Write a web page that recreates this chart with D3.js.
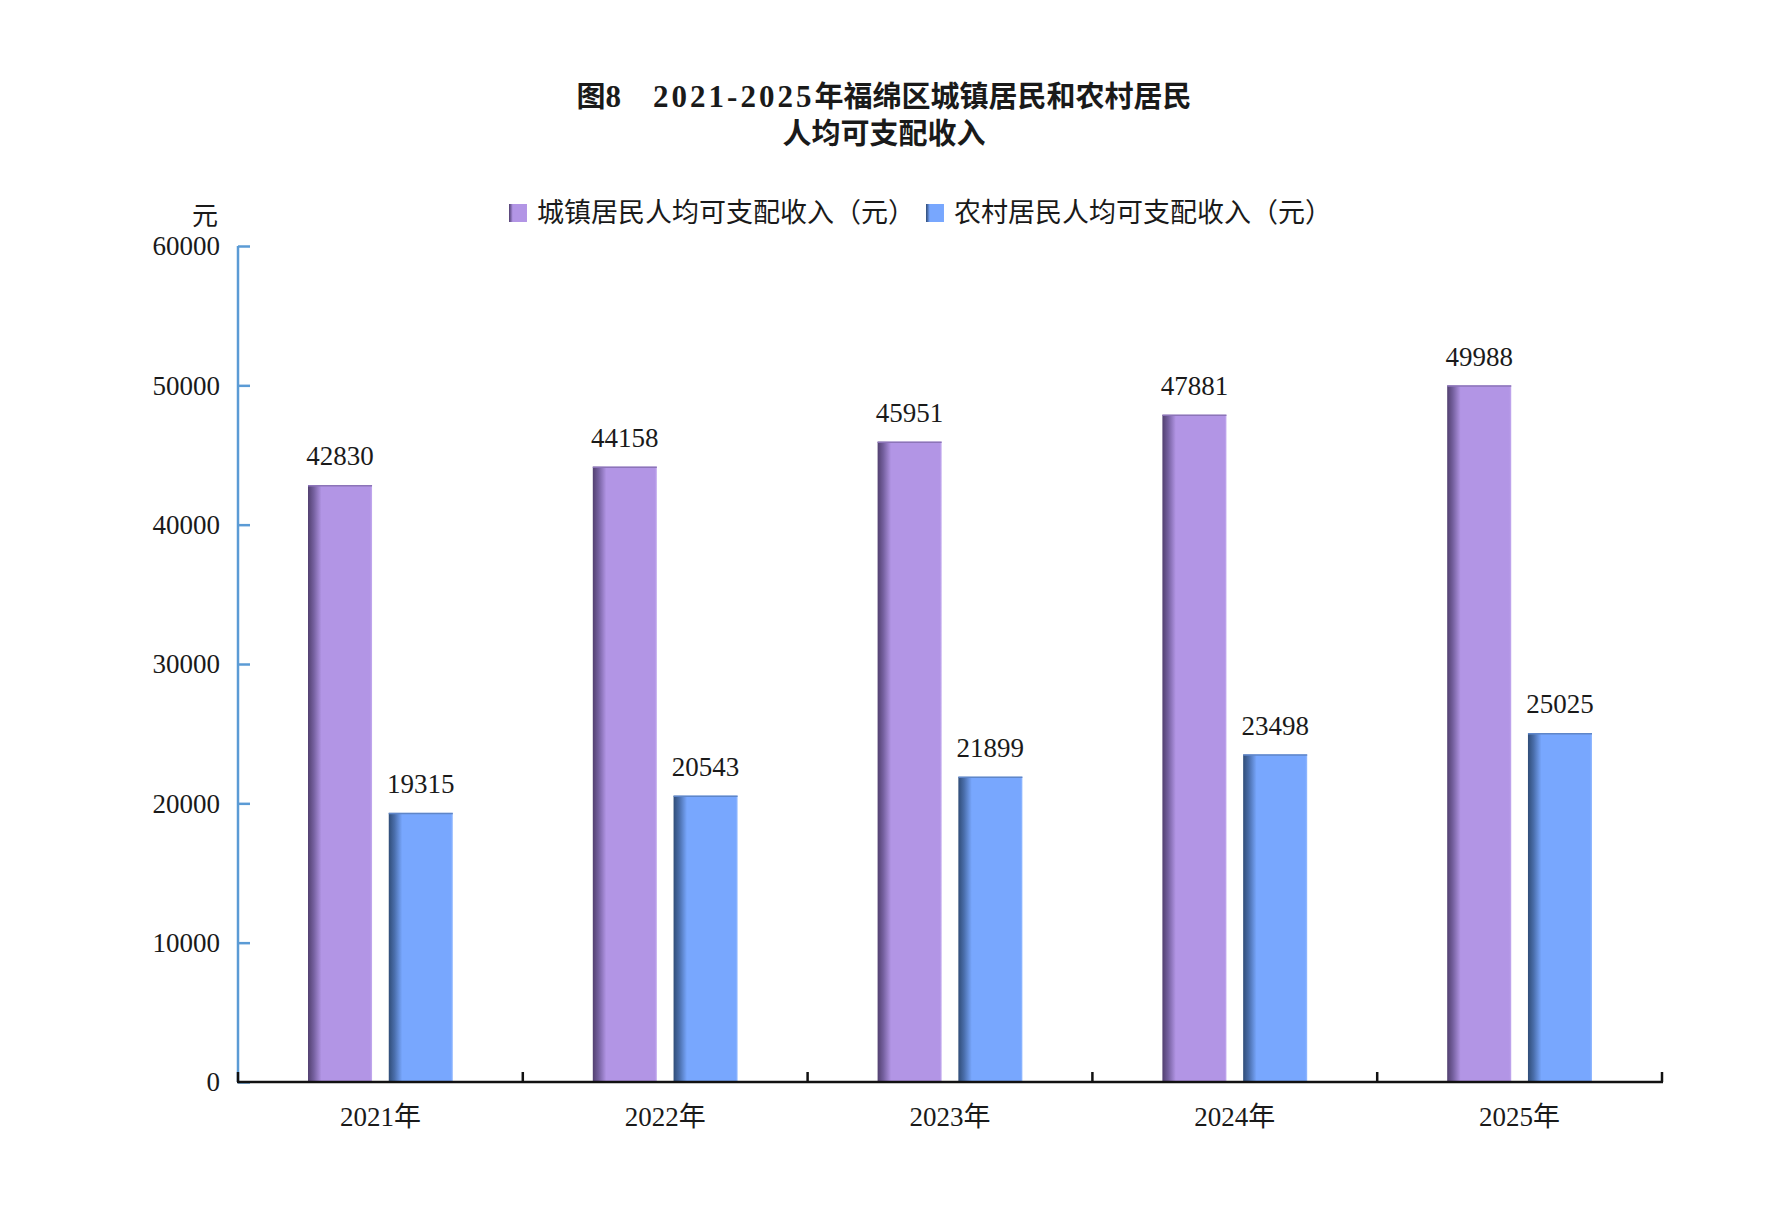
<!DOCTYPE html>
<html>
<head>
<meta charset="utf-8">
<script src="https://cdn.jsdelivr.net/npm/d3@7"></script>
<style>
  html, body { margin: 0; padding: 0; background: #fff; }
  svg { display: block; }
  text { font-family: "Liberation Serif", "Noto Sans CJK SC", serif; fill: #1a1a1a; }
</style>
</head>
<body>
<svg id="chart"></svg>
<script>
// Data
const years = ["2021年", "2022年", "2023年", "2024年", "2025年"];
const seriesNames = ["城镇居民人均可支配收入（元）", "农村居民人均可支配收入（元）"];
const urbanIncome = [42830, 44158, 45951, 47881, 49988];
const ruralIncome = [19315, 20543, 21899, 23498, 25025];
const yTicks = [0, 10000, 20000, 30000, 40000, 50000, 60000];
const titleLines = ["图8　2021-2025年福绵区城镇居民和农村居民", "人均可支配收入"];
const yUnit = "元";

const W = 1768, H = 1205;
const plot = { left: 238, right: 1662, top: 246, bottom: 1082 };

const svg = d3.select("#chart").attr("width", W).attr("height", H);
svg.append("rect").attr("width", W).attr("height", H).attr("fill", "#fff");

// Gradients: dark left edge fading into flat colour
const defs = svg.append("defs");
const palette = [
  { id: "g-urban", dark: "#524070", mid: "#75609f", main: "#b295e5", edge: "#c4acef" },
  { id: "g-rural", dark: "#304d78", mid: "#4a6eab", main: "#78a7fe", edge: "#97bcff" }
];
palette.forEach(p => {
  const g = defs.append("linearGradient").attr("id", p.id)
    .attr("x1", "0%").attr("x2", "100%").attr("y1", "0%").attr("y2", "0%");
  g.append("stop").attr("offset", "0%").attr("stop-color", p.dark);
  g.append("stop").attr("offset", "9%").attr("stop-color", p.mid);
  g.append("stop").attr("offset", "21%").attr("stop-color", p.main);
  g.append("stop").attr("offset", "97%").attr("stop-color", p.main);
  g.append("stop").attr("offset", "100%").attr("stop-color", p.edge);
});

// Scales
const x0 = d3.scaleBand().domain(years).range([plot.left, plot.right]);
const x1 = d3.scaleBand().domain(seriesNames)
  .range([70, x0.bandwidth() - 70]).paddingInner(0.207);
const y = d3.scaleLinear().domain([0, 60000]).range([plot.bottom, plot.top]);

const data = years.map((yr, i) => ({
  year: yr,
  values: [
    { key: seriesNames[0], value: urbanIncome[i], fill: "url(#g-urban)" },
    { key: seriesNames[1], value: ruralIncome[i], fill: "url(#g-rural)" }
  ]
}));

// Title - latin runs get wider spacing to match the original's digit face
const title = svg.append("g").selectAll("text").data(titleLines).join("text")
  .attr("x", 884)
  .attr("y", (d, i) => 107 + i * 37)
  .attr("text-anchor", "middle")
  .attr("font-size", "29px")
  .attr("font-weight", "bold");
title.each(function (d) {
  const parts = d.split(/([0-9\-]+)/).filter(s => s.length);
  d3.select(this).selectAll("tspan").data(parts).join("tspan")
    .attr("font-size", s => /^[0-9\-]+$/.test(s) ? "31px" : null)
    .attr("letter-spacing", s => /^[0-9\-]+$/.test(s) ? "3px" : null)
    .text(s => s);
});

// Legend
const legendX = [509, 926];
const legend = svg.append("g").selectAll("g").data(seriesNames).join("g")
  .attr("transform", (d, i) => `translate(${legendX[i]},204)`);
legend.append("rect")
  .attr("width", 18).attr("height", 18)
  .attr("fill", (d, i) => `url(#${palette[i].id})`);
legend.append("text")
  .attr("x", 28).attr("y", 18)
  .attr("font-size", "27px")
  .text(d => d);

// Bars
const groups = svg.append("g").selectAll("g.year").data(data).join("g")
  .attr("class", "year")
  .attr("transform", d => `translate(${x0(d.year)},0)`);

groups.selectAll("rect").data(d => d.values).join("rect")
  .attr("x", d => x1(d.key))
  .attr("y", d => y(d.value))
  .attr("width", x1.bandwidth())
  .attr("height", d => y(0) - y(d.value))
  .attr("fill", d => d.fill);

// thin darker top edge
groups.selectAll("line.top").data(d => d.values).join("line")
  .attr("class", "top")
  .attr("x1", d => x1(d.key)).attr("x2", d => x1(d.key) + x1.bandwidth())
  .attr("y1", d => y(d.value) + 0.5).attr("y2", d => y(d.value) + 0.5)
  .attr("stroke", (d, i) => i === 0 ? "#8c74b8" : "#5f86c8")
  .attr("stroke-width", 1.5);

groups.selectAll("text").data(d => d.values).join("text")
  .attr("x", d => x1(d.key) + x1.bandwidth() / 2)
  .attr("y", d => y(d.value) - 20)
  .attr("text-anchor", "middle")
  .attr("font-size", "27px")
  .text(d => d.value);

// Y axis
const yAxis = d3.axisRight(y).tickValues(yTicks).tickSize(12).tickFormat("");
const gy = svg.append("g").attr("transform", `translate(${plot.left},0)`).call(yAxis);
gy.select(".domain").attr("stroke", "#5b9bd5").attr("stroke-width", 2.5)
  .attr("d", `M0,${plot.top}V${plot.bottom}`);
gy.selectAll(".tick line").attr("stroke", "#5b9bd5").attr("stroke-width", 2.5);

svg.append("g").selectAll("text").data(yTicks).join("text")
  .attr("x", 220)
  .attr("y", d => y(d))
  .attr("dy", "0.35em")
  .attr("text-anchor", "end")
  .attr("font-size", "27px")
  .text(d => d);

svg.append("text")
  .attr("x", 218).attr("y", 225)
  .attr("text-anchor", "end")
  .attr("font-size", "26px")
  .text(yUnit);

// X axis
const boundaries = years.map(d => x0(d)).concat([plot.right]);
const gx = svg.append("g");
gx.append("line")
  .attr("x1", plot.left - 1).attr("x2", plot.right + 1)
  .attr("y1", plot.bottom).attr("y2", plot.bottom)
  .attr("stroke", "#111").attr("stroke-width", 2.5);
gx.selectAll("line.tick").data(boundaries).join("line")
  .attr("class", "tick")
  .attr("x1", d => d).attr("x2", d => d)
  .attr("y1", plot.bottom).attr("y2", plot.bottom - 10)
  .attr("stroke", "#111").attr("stroke-width", 2.5);

gx.selectAll("text").data(years).join("text")
  .attr("x", d => x0(d) + x0.bandwidth() / 2)
  .attr("y", 1126)
  .attr("text-anchor", "middle")
  .attr("font-size", "27px")
  .text(d => d);
</script>
</body>
</html>
